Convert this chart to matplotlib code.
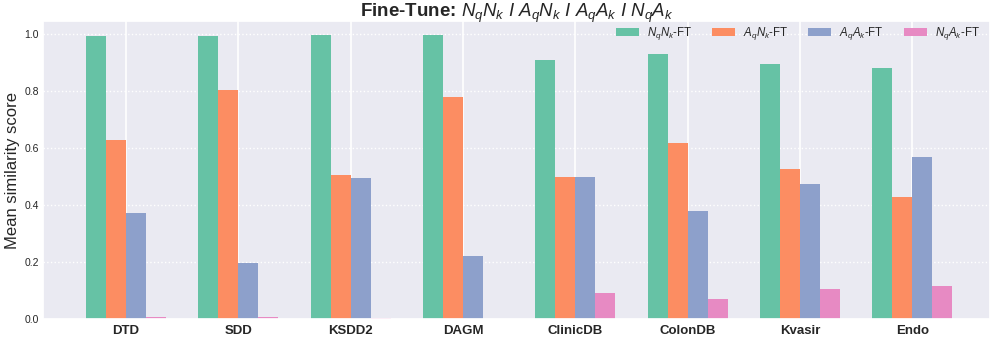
import numpy as np
import seaborn as sns
import matplotlib
matplotlib.use("Agg")
from matplotlib import pyplot as plt

# data
datasets = ["DTD", "SDD", "KSDD2", "DAGM", "ClinicDB", "ColonDB", "Kvasir", "Endo"]
nn_ft = [0.995, 0.993, 0.997, 0.998, 0.910, 0.930, 0.895, 0.883]
an_ft = [0.630, 0.806, 0.505, 0.779, 0.500, 0.620, 0.527, 0.430]
aa_ft = [0.372, 0.197, 0.495, 0.223, 0.500, 0.382, 0.475, 0.570]
na_ft = [0.007, 0.008, 0.004, 0.003, 0.092, 0.072, 0.106, 0.118]
labels = [r"$N_qN_k$-FT", r"$A_qN_k$-FT", r"$A_qA_k$-FT", r"$N_qA_k$-FT"]

sns.set_theme(style="darkgrid")
plt.rcParams["font.family"] = ["Liberation Sans", "DejaVu Sans"]
plt.rcParams["mathtext.fontset"] = "custom"
plt.rcParams["mathtext.it"] = "Liberation Sans:italic"
plt.rcParams["mathtext.rm"] = "Liberation Sans"
plt.rcParams["mathtext.bf"] = "Liberation Sans:bold"

colors = sns.color_palette("Set2", 4)
fig = plt.figure(figsize=(9.96, 3.38), dpi=100)
ax = fig.add_axes([0.043, 0.055, 0.951, 0.883])

x = np.arange(len(datasets))
w = 0.178
series = [nn_ft, an_ft, aa_ft, na_ft]
for i, (vals, lab) in enumerate(zip(series, labels)):
    ax.bar(x + (i - 1.5) * w, vals, w, color=colors[i], label=lab,
           linewidth=0, zorder=2)

ax.set_xlim(-0.74, 7.69)
ax.set_ylim(0, 1.047)
ax.set_xticks(x)
ax.set_xticklabels(datasets, fontsize=9.5, fontweight="bold")
ax.set_yticks([0, 0.2, 0.4, 0.6, 0.8, 1.0])
ax.set_yticklabels(["0.0", "0.2", "0.4", "0.6", "0.8", "1.0"], fontsize=7.5)
ax.tick_params(axis="x", pad=4, length=0)
ax.tick_params(axis="y", pad=3, length=0)
ax.yaxis.grid(True, linestyle=":", color="white", linewidth=1)
ax.xaxis.grid(True, linestyle="-", color="white", linewidth=1.2)
ax.set_ylabel("Mean similarity score", fontsize=12, labelpad=3)

ax.set_title(r"Fine-Tune: $N_qN_k\ I\ A_qN_k\ I\ A_qA_k\ I\ N_qA_k$",
             fontsize=13.5, fontweight="bold", pad=3)

ax.legend(loc="upper right", ncol=4, frameon=False, fontsize=8.3,
          handlelength=2.0, handleheight=0.7, handletextpad=0.7,
          columnspacing=1.7, bbox_to_anchor=(1.0, 1.022))

fig.savefig("out.png", dpi=100)
